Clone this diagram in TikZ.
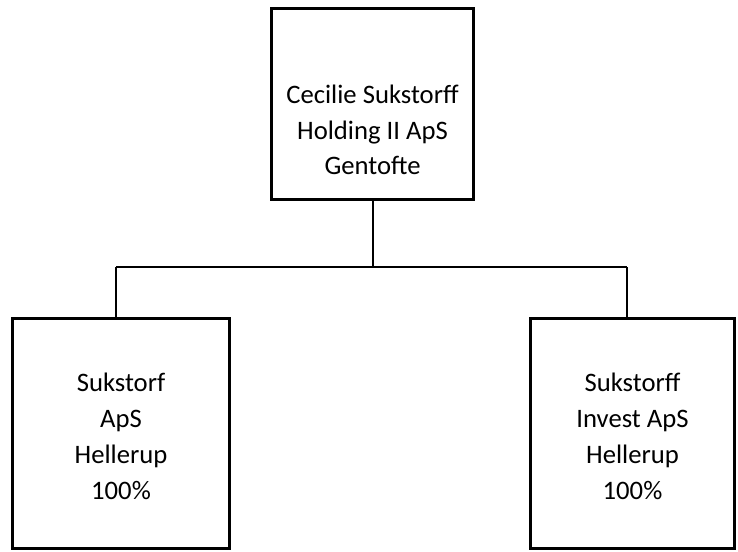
\documentclass[tikz,border=0pt]{standalone}
\usepackage{fontspec}
\setmainfont{Carlito}
\begin{document}
\begin{tikzpicture}[x=0.75pt, y=-0.75pt,
  company/.style={draw, line width=2.2pt, inner sep=0pt},
  firmtxt/.style={align=center, font=\fontsize{20}{26.5}\selectfont},
  link/.style={line width=1.5pt}
]
\useasboundingbox (0,0) rectangle (738,552);
\node[company, minimum width=152pt, minimum height=143pt] (holding) at (372.5,104) {};
\node[company, minimum width=163pt, minimum height=172pt] (sukstorf) at (121,433.5) {};
\node[company, minimum width=153pt, minimum height=172pt] (invest) at (632.5,433.5) {};
\node[firmtxt] (holdingtxt) at (372.5,130) {Cecilie Sukstorff\\Holding II ApS\\Gentofte};
\node[firmtxt, font=\fontsize{20}{27}\selectfont] (sukstorftxt) at (121,436) {Sukstorf\\ApS\\Hellerup\\100\%};
\node[firmtxt, font=\fontsize{20}{27}\selectfont] (investtxt) at (632.5,436) {Sukstorff\\Invest ApS\\Hellerup\\100\%};

\coordinate (bus) at (373,267);
\coordinate (lbus) at (116,267);
\coordinate (rbus) at (627,267);
\draw[link] (holding.south -| bus) -- (bus);
\draw[link] (lbus) -- (rbus);
\draw[link] (lbus) -- (lbus |- sukstorf.north);
\draw[link] (rbus) -- (rbus |- invest.north);
\end{tikzpicture}
\end{document}
